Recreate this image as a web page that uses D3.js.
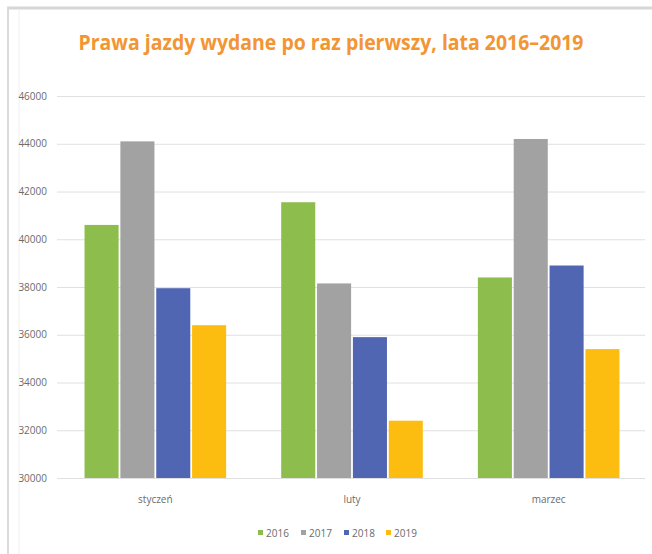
<!DOCTYPE html>
<html>
<head>
<meta charset="utf-8">
<script src="https://cdn.jsdelivr.net/npm/d3@7"></script>
<style>
  body { margin: 0; background: #fff; }
  svg { display: block; }
</style>
</head>
<body>
<svg id="chart"></svg>
<script>
const WIDTH = 652;
const HEIGHT = 554;

// dane
var months = ['styczeń', 'luty', 'marzec'];
var years = ['2016', '2017', '2018', '2019'];
var v2016 = [40600, 41550, 38400];
var v2017 = [44100, 38150, 44200];
var v2018 = [37950, 35900, 38900];
var v2019 = [36400, 32400, 35400];
var yTicks = [30000, 32000, 34000, 36000, 38000, 40000, 42000, 44000, 46000];
var colors = ['#8dbd4c', '#a3a2a3', '#5066b2', '#fdbd10'];

var series = [v2016, v2017, v2018, v2019];

var svg = d3.select('#chart')
    .attr('width', WIDTH)
    .attr('height', HEIGHT);

// ramka (góra i lewa krawędź)
svg.append('line')
    .attr('x1', 7).attr('x2', WIDTH).attr('y1', 8).attr('y2', 8)
    .attr('stroke', '#d6d6d6').attr('stroke-width', 3);
svg.append('line')
    .attr('x1', 8).attr('x2', 8).attr('y1', 7).attr('y2', HEIGHT)
    .attr('stroke', '#dadada').attr('stroke-width', 2);
svg.append('line')
    .attr('x1', 19).attr('x2', 19).attr('y1', 10).attr('y2', HEIGHT)
    .attr('stroke', '#f0f0f0').attr('stroke-width', 1);

// tytuł
svg.append('text')
    .attr('x', 331)
    .attr('y', 50)
    .attr('text-anchor', 'middle')
    .attr('textLength', 505)
    .attr('lengthAdjust', 'spacingAndGlyphs')
    .style('font-family', "'Liberation Sans Narrow', 'Open Sans', sans-serif")
    .style('font-weight', 'bold')
    .style('font-size', '22px')
    .style('fill', '#f29532')
    .text('Prawa jazdy wydane po raz pierwszy, lata 2016–2019');

// skale
var yScale = d3.scaleLinear()
    .domain([30000, 46000])
    .range([478, 96]);

var x0 = d3.scaleBand()
    .domain(months)
    .range([57, 647])
    .paddingInner(0.28)
    .paddingOuter(0.14);

var x1 = d3.scaleBand()
    .domain(years)
    .range([0, x0.bandwidth()])
    .paddingInner(0.05);

// linie siatki + etykiety osi Y
var yAxis = d3.axisLeft(yScale)
    .tickValues(yTicks)
    .tickSize(-(645 - 57))
    .tickPadding(10)
    .tickFormat(d3.format('d'));

var gy = svg.append('g')
    .attr('transform', 'translate(57,0)')
    .call(yAxis);
gy.select('.domain').remove();
gy.selectAll('.tick line')
    .attr('stroke', '#e0e0e0')
    .attr('stroke-width', 1);
gy.selectAll('.tick text')
    .style('font-family', "'Open Sans', sans-serif")
    .style('font-size', '10px')
    .attr('fill', '#6b6b6b');

// słupki
var groups = svg.append('g').selectAll('g')
    .data(months)
    .enter()
    .append('g')
    .attr('transform', function(d) { return 'translate(' + x0(d) + ',0)'; });

groups.selectAll('rect')
    .data(function(d, i) {
        return years.map(function(y, j) {
            return { year: y, value: series[j][i], color: colors[j] };
        });
    })
    .enter()
    .append('rect')
    .attr('x', function(d) { return x1(d.year); })
    .attr('width', x1.bandwidth())
    .attr('y', function(d) { return yScale(d.value); })
    .attr('height', function(d) { return yScale(30000) - yScale(d.value); })
    .attr('fill', function(d) { return d.color; });

// oś X - etykiety kategorii
var xAxis = d3.axisBottom(x0).tickSize(0).tickPadding(18);
var gx = svg.append('g')
    .attr('transform', 'translate(0,478)')
    .call(xAxis);
gx.select('.domain').remove();
gx.selectAll('.tick text')
    .style('font-family', "'Open Sans', sans-serif")
    .style('font-size', '10px')
    .attr('fill', '#6b6b6b');

// legenda
var legendX = [258, 301, 344, 386];
var legend = svg.append('g').selectAll('g')
    .data(years)
    .enter()
    .append('g')
    .attr('transform', function(d, i) { return 'translate(' + legendX[i] + ',533)'; });

legend.append('rect')
    .attr('x', 0).attr('y', -3)
    .attr('width', 5).attr('height', 5)
    .attr('fill', function(d, i) { return colors[i]; });

legend.append('text')
    .attr('x', 8)
    .attr('y', 3.5)
    .style('font-family', "'Open Sans', sans-serif")
    .style('font-size', '10px')
    .attr('fill', '#6b6b6b')
    .text(function(d) { return d; });
</script>
</body>
</html>
